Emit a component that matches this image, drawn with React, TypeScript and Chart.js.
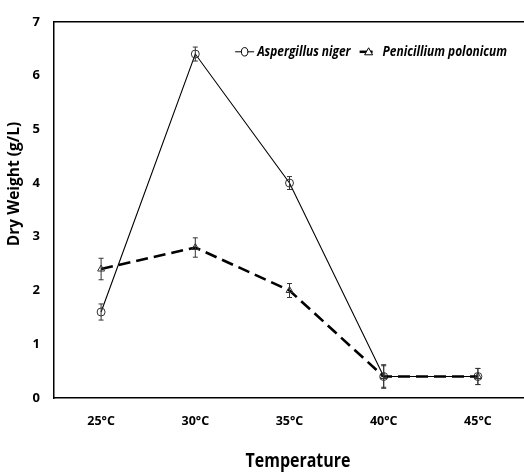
import React, { useEffect, useRef } from "react";
import { Chart, registerables } from "chart.js";

Chart.register(...registerables);

const categories = ["25°C", "30°C", "35°C", "40°C", "45°C"];
const aspergillusValues = [1.6, 6.4, 4.0, 0.4, 0.4];
const aspergillusErrors = [0.15, 0.13, 0.12, 0.2, 0.15];
const penicilliumValues = [2.4, 2.8, 2.0, 0.4, 0.4];
const penicilliumErrors = [0.2, 0.18, 0.13, 0.22, 0.15];
const seriesNames = ["Aspergillus niger", "Penicillium polonicum"];
const yTitle = "Dry Weight (g/L)";
const xTitle = "Temperature";

const FONT = '"Open Sans", "DejaVu Sans", sans-serif';
const CONDENSE = 0.82;

const errorBarPlugin = {
  id: "errorBars",
  afterDatasetsDraw(chart: any) {
    const ctx = chart.ctx;
    const yScale = chart.scales.y;
    chart.data.datasets.forEach((ds: any, i: number) => {
      const meta = chart.getDatasetMeta(i);
      const errs: number[] = ds.errors || [];
      meta.data.forEach((pt: any, j: number) => {
        const v = ds.data[j];
        const e = errs[j] || 0;
        const yTop = yScale.getPixelForValue(v + e);
        const yBot = yScale.getPixelForValue(v - e);
        const x = pt.x;
        ctx.save();
        ctx.strokeStyle = "#333";
        ctx.lineWidth = 1;
        ctx.beginPath();
        ctx.moveTo(x, yTop);
        ctx.lineTo(x, yBot);
        ctx.moveTo(x - 2.5, yTop);
        ctx.lineTo(x + 2.5, yTop);
        ctx.moveTo(x - 2.5, yBot);
        ctx.lineTo(x + 2.5, yBot);
        ctx.stroke();
        ctx.restore();
      });
    });
  },
};

function condensedText(ctx: any, text: string, x: number, y: number, align: "left" | "center") {
  ctx.save();
  ctx.translate(x, y);
  ctx.scale(CONDENSE, 1);
  ctx.textAlign = align;
  ctx.fillText(text, 0, 0);
  ctx.restore();
}

const framePlugin = {
  id: "frameAndLegend",
  afterDraw(chart: any) {
    const ctx = chart.ctx;
    const area = chart.chartArea;
    ctx.save();
    // top border
    ctx.strokeStyle = "#000";
    ctx.lineWidth = 1.5;
    ctx.beginPath();
    ctx.moveTo(area.left, area.top);
    ctx.lineTo(area.right, area.top);
    ctx.stroke();

    // y title
    ctx.save();
    ctx.translate(15, 184);
    ctx.rotate(-Math.PI / 2);
    ctx.font = "bold 15.5px " + FONT;
    ctx.fillStyle = "#000";
    ctx.textAlign = "center";
    ctx.textBaseline = "middle";
    ctx.fillText(yTitle, 0, 0);
    ctx.restore();

    // x title
    ctx.font = "bold 19.5px " + FONT;
    ctx.fillStyle = "#000";
    ctx.textBaseline = "middle";
    condensedText(ctx, xTitle, 298, 461, "center");

    // legend
    const ly = area.top + 30;
    ctx.font = "italic bold 14.5px " + FONT;
    ctx.fillStyle = "#000";
    ctx.textBaseline = "middle";
    const wA = ctx.measureText(seriesNames[0]).width * CONDENSE;
    const wP = ctx.measureText(seriesNames[1]).width * CONDENSE;
    const pEnd = 507;
    const pStart = pEnd - wP;
    const pSymL = pStart - 23;
    const pSymR = pStart - 10;
    const aEnd = pSymL - 9;
    const aStart = aEnd - wA;
    const aSymL = aStart - 22;
    const aSymR = aStart - 3;

    // A symbol
    ctx.strokeStyle = "#000";
    ctx.lineWidth = 1;
    ctx.beginPath();
    ctx.moveTo(aSymL, ly);
    ctx.lineTo(aSymR, ly);
    ctx.stroke();
    ctx.fillStyle = "#fff";
    ctx.beginPath();
    ctx.ellipse((aSymL + aSymR) / 2, ly, 3.2, 4.2, 0, 0, Math.PI * 2);
    ctx.fill();
    ctx.stroke();
    ctx.fillStyle = "#000";
    condensedText(ctx, seriesNames[0], aStart, ly, "left");

    // P symbol
    ctx.lineWidth = 2.5;
    ctx.beginPath();
    ctx.moveTo(pSymL, ly);
    ctx.lineTo(pSymR, ly);
    ctx.stroke();
    const tx = pSymL + 9;
    ctx.lineWidth = 1;
    ctx.fillStyle = "#fff";
    ctx.beginPath();
    ctx.moveTo(tx, ly - 4);
    ctx.lineTo(tx + 4, ly + 3);
    ctx.lineTo(tx - 4, ly + 3);
    ctx.closePath();
    ctx.fill();
    ctx.stroke();
    ctx.fillStyle = "#000";
    condensedText(ctx, seriesNames[1], pStart, ly, "left");
    ctx.restore();
  },
};

export default function App() {
  const canvasRef = useRef<HTMLCanvasElement | null>(null);

  useEffect(() => {
    if (!canvasRef.current) return;
    const chart = new Chart(canvasRef.current, {
      type: "line",
      data: {
        labels: categories,
        datasets: [
          {
            label: seriesNames[1],
            data: penicilliumValues,
            errors: penicilliumErrors,
            borderColor: "#000",
            borderWidth: 2.6,
            borderDash: [12, 6],
            pointStyle: "triangle",
            pointRadius: 4,
            pointBorderWidth: 1,
            pointBorderColor: "#333",
            pointBackgroundColor: "rgba(255,255,255,0)",
            tension: 0,
            fill: false,
          } as any,
          {
            label: seriesNames[0],
            data: aspergillusValues,
            errors: aspergillusErrors,
            borderColor: "#000",
            borderWidth: 1.1,
            pointStyle: "circle",
            pointRadius: 4,
            pointBorderWidth: 1,
            pointBorderColor: "#333",
            pointBackgroundColor: "rgba(255,255,255,0)",
            tension: 0,
            fill: false,
          } as any,
        ],
      },
      options: {
        animation: false,
        responsive: false,
        maintainAspectRatio: false,
        layout: { padding: { top: 16, right: 0, bottom: 0, left: 1 } },
        plugins: {
          legend: { display: false },
          tooltip: { enabled: false },
          title: { display: false },
        },
        scales: {
          x: {
            type: "category",
            offset: true,
            grid: { display: true, drawOnChartArea: false, drawTicks: false },
            border: { display: true, color: "#000", width: 1.5 },
            ticks: {
              color: "#000",
              padding: 16,
              font: { family: FONT, size: 12.5, weight: "bold" },
              maxRotation: 0,
            },
            title: { display: false },
            afterFit(scale: any) {
              scale.height = 75;
            },
          },
          y: {
            min: 0,
            max: 7,
            grid: { display: true, drawOnChartArea: false, drawTicks: false },
            border: { display: true, color: "#000", width: 1.5 },
            ticks: {
              stepSize: 1,
              color: "#000",
              padding: 14,
              font: { family: FONT, size: 13, weight: "bold" },
            },
            afterFit(scale: any) {
              scale.width = 53;
            },
          },
        },
      } as any,
      plugins: [errorBarPlugin, framePlugin],
    });
    return () => chart.destroy();
  }, []);

  return (
    <div style={{ position: "fixed", left: 0, top: 0, width: 524, height: 473, overflow: "hidden", background: "#fff" }}>
      <canvas ref={canvasRef} width={530} height={473} style={{ display: "block" }} />
    </div>
  );
}
